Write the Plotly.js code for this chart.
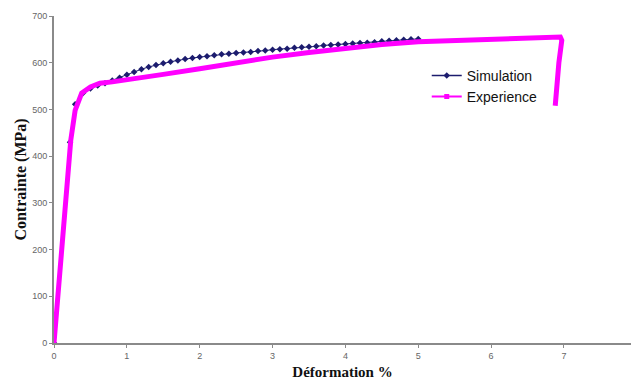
<!DOCTYPE html>
<html>
<head>
<meta charset="utf-8">
<script src="https://cdn.plot.ly/plotly-3.0.1.min.js"></script>
<style>html,body{margin:0;padding:0;background:#fff;}#chart{width:631px;height:380px;}</style>
</head>
<body>
<div id="chart"></div>
<script>
// Simulation series (strain %, stress MPa)
const simX = [0, 0.22, 0.29, 0.4, 0.5, 0.6, 0.7, 0.8, 0.9, 1.0, 1.1, 1.2, 1.3, 1.4, 1.5, 1.6, 1.7, 1.8, 1.9, 2.0,
  2.1, 2.2, 2.3, 2.4, 2.5, 2.6, 2.7, 2.8, 2.9, 3.0, 3.1, 3.2, 3.3, 3.4, 3.5, 3.6, 3.7, 3.8, 3.9, 4.0,
  4.1, 4.2, 4.3, 4.4, 4.5, 4.6, 4.7, 4.8, 4.9, 5.0];
const simY = [0, 430, 511, 535, 545, 551, 556, 562, 568, 574, 580, 586, 591, 595, 599, 602, 605, 608, 610, 612,
  614, 616, 618, 619, 621, 622, 623, 625, 626, 628, 629, 630, 632, 633, 634, 635, 637, 638, 639, 640,
  641, 642, 643, 644, 646, 647, 648, 649, 650, 651];
// Experience series
const expX = [0, 0.13, 0.23, 0.29, 0.38, 0.5, 0.63, 0.8, 1.0, 1.5, 2.0, 2.5, 3.0, 3.5, 4.0, 4.5, 5.0, 5.5, 6.0, 6.5, 6.95, 6.97, 6.93, 6.88];
const expY = [0, 256, 434, 498, 535, 548, 556, 559, 563, 575, 587, 600, 612, 622, 631, 639, 645, 648, 651, 653, 655, 648, 600, 508];
const seriesNames = ["Simulation", "Experience"];
const xTicks = [0, 1, 2, 3, 4, 5, 6, 7, 8];
const yTicks = [0, 100, 200, 300, 400, 500, 600, 700];

const simColor = "#1c1c6e";
const expColor = "#ff00ff";

const traces = [
  {x: simX, y: simY, mode: "lines+markers", line: {color: simColor, width: 1},
   marker: {symbol: "diamond", size: 5, color: simColor}, showlegend: false},
  {x: expX, y: expY, mode: "lines", line: {color: expColor, width: 5}, showlegend: false, hoverinfo: "skip"},
  {x: [null], y: [null], name: seriesNames[0], mode: "lines+markers", line: {color: simColor, width: 1.5},
   marker: {symbol: "diamond", size: 5, color: simColor}},
  {x: [null], y: [null], name: seriesNames[1], mode: "lines+markers", line: {color: expColor, width: 2},
   marker: {symbol: "square", size: 5, color: expColor}}
];

const layout = {
  width: 631, height: 380,
  margin: {l: 54, r: 0, t: 16, b: 37, pad: 0},
  paper_bgcolor: "#fff", plot_bgcolor: "#fff",
  showlegend: true,
  legend: {x: 0.646, y: 0.866, xanchor: "left", yanchor: "top", bgcolor: "rgba(0,0,0,0)",
    font: {family: "Liberation Sans, Arial", size: 14, color: "#111"}, tracegroupgap: 0, itemwidth: 30},
  xaxis: {
    range: [0, 7.92], tickvals: xTicks, ticktext: xTicks.map(String),
    showline: true, linecolor: "#8a8a8a", linewidth: 2, showgrid: false, zeroline: false,
    ticks: "outside", ticklen: 3, tickcolor: "#8a8a8a", tickwidth: 1,
    tickfont: {family: "Liberation Sans, Arial", size: 9, color: "#666"},
    title: {text: "Déformation %", font: {family: "Liberation Serif, Times New Roman", size: 15, color: "#111", weight: "bold"}, standoff: 7}
  },
  yaxis: {
    range: [0, 700], tickvals: yTicks, ticktext: yTicks.map(String),
    showline: true, linecolor: "#8a8a8a", linewidth: 2, showgrid: false, zeroline: false,
    ticks: "outside", ticklen: 3, tickcolor: "#8a8a8a", tickwidth: 1,
    tickfont: {family: "Liberation Sans, Arial", size: 9, color: "#666"},
    title: {text: "Contrainte (MPa)", font: {family: "Liberation Serif, Times New Roman", size: 16, color: "#111", weight: "bold"}, standoff: 2}
  }
};

Plotly.newPlot("chart", traces, layout, {displayModeBar: false, staticPlot: true});
</script>
</body>
</html>
